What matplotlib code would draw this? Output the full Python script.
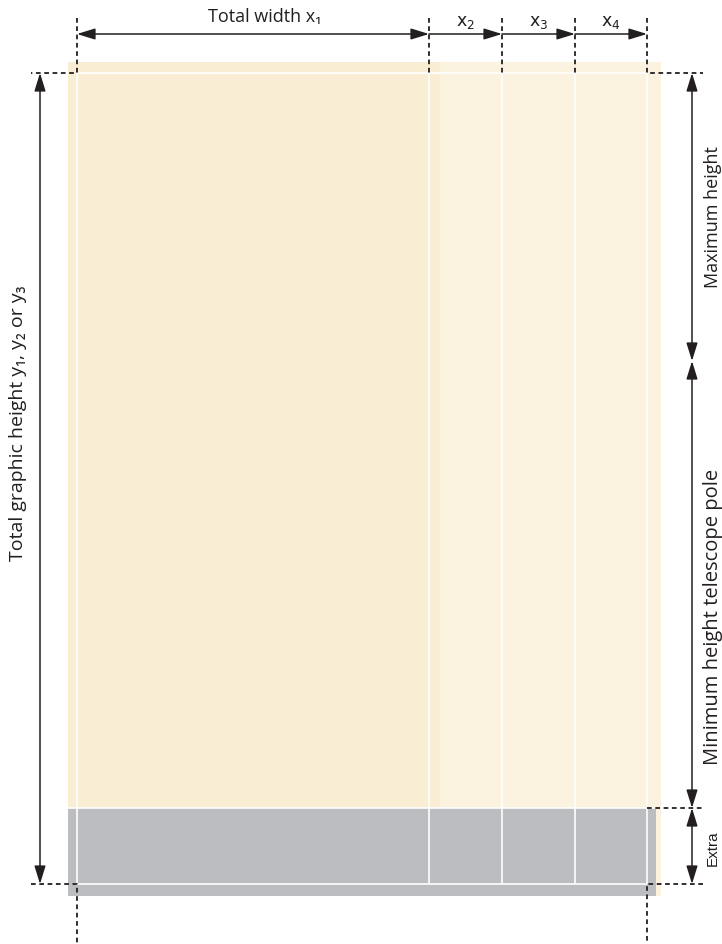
import matplotlib.pyplot as plt
from matplotlib.patches import Rectangle

# column borders of the frame (x, pixels) and their labels
col_edges = [77, 429, 502, 575, 647]
col_labels = ['Total width x\u2081', r'$\mathregular{x_2}$', r'$\mathregular{x_3}$', r'$\mathregular{x_4}$']

# height borders (y, pixels from top) and labels
row_edges = [74, 362, 809, 885]
row_labels = ['Maximum height', 'Minimum height telescope pole', 'Extra']
total_label = 'Total graphic height y\u2081, y\u2082 or y\u2083'

beige_dark = '#f9edd3'
beige_light = '#fbf2e0'
grey = '#bcbdc1'
ink = '#231f20'
fonts = ['Open Sans', 'DejaVu Sans']

fig = plt.figure(figsize=(7.22, 9.45), dpi=100)
ax = fig.add_axes([0, 0, 1, 1])
ax.set_xlim(0, 722)
ax.set_ylim(945, 0)
ax.axis('off')

left, right = col_edges[0], col_edges[-1]
top, pole, extra, bottom = row_edges

# background panels
ax.add_patch(Rectangle((left - 9, top - 11), right - left + 23, bottom - top + 23,
                       color=beige_light, lw=0))
ax.add_patch(Rectangle((left - 9, top - 11), col_edges[1] - left + 20, extra - top + 11,
                       color=beige_dark, lw=0))
ax.add_patch(Rectangle((left - 9, extra), right - left + 18, bottom - extra + 12,
                       color=grey, lw=0))

# white frame lines
wl = dict(color='white', lw=1.2, solid_capstyle='butt')
ax.plot([left, right], [top, top], **wl)
ax.plot([left, right], [bottom, bottom], **wl)
ax.plot([left - 9, right + 9], [extra, extra], **wl)
for x in col_edges:
    ax.plot([x, x], [top, bottom], **wl)

# dashed guides
dl = dict(color=ink, lw=1.3, ls=(0, (2.6, 2.0)))
ax.plot([left, left, 31], [19, top, top], **dl)
ax.plot([right, right, 703], [19, top, top], **dl)
for x in col_edges[1:-1]:
    ax.plot([x, x], [19, top], **dl)
ax.plot([right, 703], [extra, extra], **dl)
ax.plot([31, left, left], [bottom, bottom, 945], **dl)
ax.plot([703, right, right], [bottom, bottom, 945], **dl)


def arrow(p0, p1, style):
    ax.annotate('', xy=p1, xytext=p0,
                arrowprops=dict(arrowstyle=style + ',head_length=0.55,head_width=0.17',
                                color=ink, lw=1.1, shrinkA=0, shrinkB=0,
                                mutation_scale=20))


# widths
ya = 35
arrow((col_edges[0], ya), (col_edges[1], ya), '<|-|>')
for a, b in zip(col_edges[1:-1], col_edges[2:]):
    arrow((a, ya), (b, ya), '-|>')
ax.text(265, 17, col_labels[0], ha='center', va='center',
        fontsize=13, color=ink, family=fonts)
for i, lab in enumerate(col_labels[1:]):
    xc = (col_edges[i + 1] + col_edges[i + 2]) / 2
    ax.text(xc, 22, lab, ha='center', va='center', fontsize=12.5, color=ink,
            family='DejaVu Sans')

# heights
arrow((40, top), (40, bottom), '<|-|>')
ax.text(18, 423, total_label, rotation=90, ha='center', va='center',
        fontsize=14, color=ink, family=fonts)

xr = 692
for a, b in zip(row_edges[:-1], row_edges[1:]):
    arrow((xr, a), (xr, b), '<|-|>')
ax.text(713, 217, row_labels[0], rotation=90, ha='center', va='center',
        fontsize=13, color=ink, family=fonts)
ax.text(713, 617, row_labels[1], rotation=90, ha='center', va='center',
        fontsize=14.5, color=ink, family=fonts)
ax.text(713, 848, row_labels[2], rotation=90, ha='center', va='center',
        fontsize=11, color=ink, family=['Liberation Sans', 'DejaVu Sans'])

fig.savefig('out.png', dpi=100)
